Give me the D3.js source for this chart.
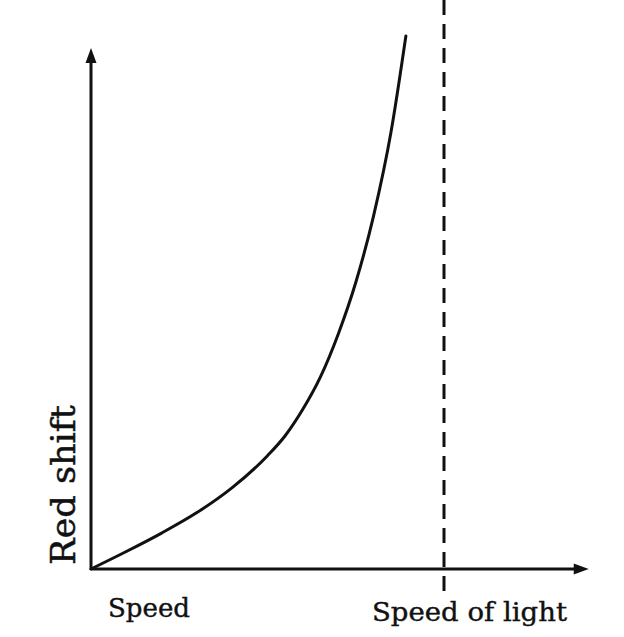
<!DOCTYPE html>
<html>
<head>
<meta charset="utf-8">
<script src="https://cdn.jsdelivr.net/npm/d3@7"></script>
<style>
  html, body { margin: 0; padding: 0; background: #fff; }
  svg { display: block; }
</style>
</head>
<body>
<svg id="chart" width="624" height="637"></svg>
<script>
// Speed as a fraction of the speed of light
const speed = [0, 0.1, 0.2, 0.3, 0.4, 0.5, 0.55, 0.6, 0.65, 0.7, 0.75, 0.8, 0.85, 0.892];
// Red shift (arbitrary units)
const redShift = [0, 0.175, 0.36, 0.565, 0.815, 1.135, 1.335, 1.60, 1.925, 2.35, 2.87, 3.53, 4.38, 5.34];
const lightSpeed = 1;
const xAxisEnd = 1.41;
const yAxisEnd = 5.22;
const xLabels = ["Speed", "Speed of light"];
const yLabel = "Red shift";

const svg = d3.select("#chart");
const x = d3.scaleLinear().domain([0, 1]).range([91, 444]);
const y = d3.scaleLinear().domain([0, 5.7]).range([569, 0]);

const ink = "#111";

// dashed speed-of-light line
svg.append("line")
  .attr("x1", x(lightSpeed)).attr("x2", x(lightSpeed))
  .attr("y1", 0).attr("y2", 594)
  .attr("stroke", ink).attr("stroke-width", 3)
  .attr("stroke-dasharray", "15,9");

// axes
svg.append("line")
  .attr("x1", x(0)).attr("x2", x(xAxisEnd) - 10)
  .attr("y1", y(0)).attr("y2", y(0))
  .attr("stroke", ink).attr("stroke-width", 3);
svg.append("line")
  .attr("x1", x(0)).attr("x2", x(0))
  .attr("y1", y(0) + 1).attr("y2", y(yAxisEnd) + 10)
  .attr("stroke", ink).attr("stroke-width", 3);

// arrowheads
const xt = x(xAxisEnd), yt = y(0);
svg.append("path")
  .attr("d", `M${xt},${yt} L${xt - 15},${yt - 5.5} L${xt - 15},${yt + 5.5} Z`)
  .attr("fill", ink);
const ax = x(0), ay = y(yAxisEnd);
svg.append("path")
  .attr("d", `M${ax},${ay} L${ax - 5.5},${ay + 15} L${ax + 5.5},${ay + 15} Z`)
  .attr("fill", ink);

// curve
const pts = speed.map((s, i) => [s, redShift[i]]);
svg.append("path")
  .datum(pts)
  .attr("d", d3.line().x(d => x(d[0])).y(d => y(d[1])).curve(d3.curveMonotoneX))
  .attr("fill", "none").attr("stroke", ink).attr("stroke-width", 3)
  .attr("stroke-linecap", "round");

// labels
const font = "'DejaVu Serif', serif";
svg.append("text")
  .attr("x", 108).attr("y", 617)
  .attr("font-family", font).attr("font-size", 26)
  .attr("textLength", 82).attr("lengthAdjust", "spacingAndGlyphs")
  .attr("fill", ink).attr("stroke", ink).attr("stroke-width", 0.4)
  .text(xLabels[0]);
svg.append("text")
  .attr("x", 372).attr("y", 621)
  .attr("font-family", font).attr("font-size", 26)
  .attr("textLength", 195).attr("lengthAdjust", "spacingAndGlyphs")
  .attr("fill", ink).attr("stroke", ink).attr("stroke-width", 0.4)
  .text(xLabels[1]);
svg.append("text")
  .attr("transform", "translate(75,565) rotate(-90)")
  .attr("font-family", font).attr("font-size", 34)
  .attr("textLength", 160).attr("lengthAdjust", "spacingAndGlyphs")
  .attr("fill", ink).attr("stroke", ink).attr("stroke-width", 0.5)
  .text(yLabel);
</script>
</body>
</html>
